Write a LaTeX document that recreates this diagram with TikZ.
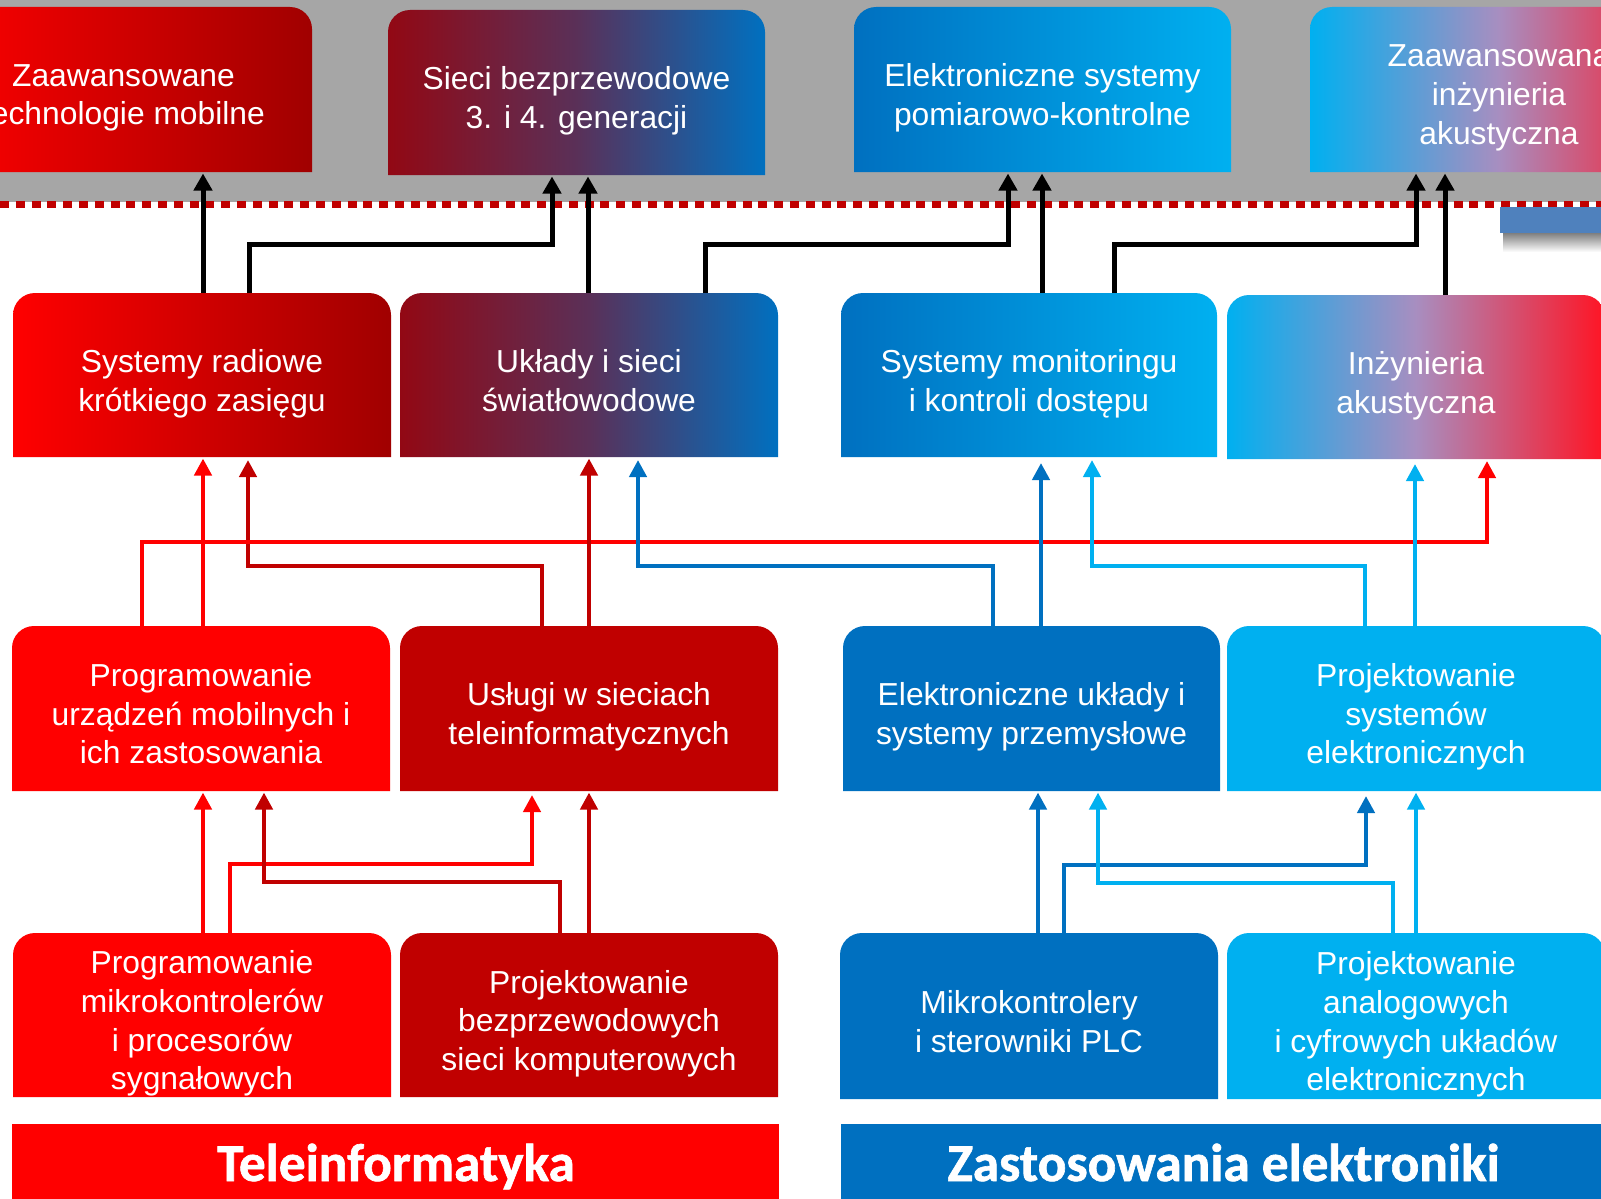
\documentclass[tikz,border=0pt]{standalone}
\usepackage{fontspec}
\setmainfont{Liberation Sans}
\newfontfamily\headfont{Carlito}[BoldFeatures={FakeBold=1.2}]
\usetikzlibrary{arrows.meta,calc}
\pgfdeclarelayer{background}
\pgfsetlayers{background,main}

\definecolor{cRed}{RGB}{255,0,0}
\definecolor{cDark}{RGB}{192,0,0}
\definecolor{cBlue}{RGB}{0,112,192}
\definecolor{cCyan}{RGB}{0,176,240}
\definecolor{cDeep}{RGB}{160,0,0}
\definecolor{cWine}{RGB}{146,8,20}
\definecolor{cPlum}{RGB}{90,48,88}
\definecolor{cLav}{RGB}{168,142,192}
\definecolor{cPink}{RGB}{255,20,36}
\definecolor{cGray}{RGB}{166,166,166}
\definecolor{cSteel}{RGB}{79,129,189}

\tikzset{
  boxnode/.style={rectangle, inner sep=0pt, outer sep=0pt},
  lbl/.style={text=white, align=center, inner sep=0pt,
    font=\fontsize{31.8}{38.7}\selectfont,
    execute at end node={\vphantom{y}}},
  headlbl/.style={text=white, inner sep=0pt,
    font=\headfont\bfseries\fontsize{53.3}{60}\selectfont},
  blk/.style={draw=black, line width=5pt,
    -{Triangle[width=18pt,length=17pt]}, shorten >=1.5pt},
  clr/.style={line width=4.5pt,
    -{Triangle[width=17pt,length=17pt]}, shorten >=1.5pt},
}

\newcommand\mkbox[5]{%
  \node[boxnode, minimum width={(#4)-(#2)}, minimum height={(#5)-(#3)}]
    (#1) at ({((#2)+(#4))/2},{((#3)+(#5))/2}) {};}
\newcommand\rtshape[2]{%
  \begin{pgfonlayer}{background}
  \path[#2] (#1.south west) [rounded corners=22pt] -- (#1.north west)
     -- (#1.north east) [sharp corners] -- (#1.south east) -- cycle;
  \end{pgfonlayer}}

\begin{document}
\begin{tikzpicture}[x=1pt,y=-1pt]
\useasboundingbox (0,0) rectangle (1601,1199);

% top band
\begin{pgfonlayer}{background}
\fill[cGray] (0,0) rectangle (1601,202);
\draw[cDark, line width=7pt, dash pattern=on 9pt off 6.8pt] (0,204) -- (1601,204);
\shade[top color=black!50, bottom color=white] (1503,233) rectangle (1601,252);
\fill[cSteel] (1500,207) rectangle (1601,233);
\end{pgfonlayer}

% boxes
\mkbox{T1}{-65}{7}{312}{172}
\mkbox{T2}{388}{10}{765}{175}
\mkbox{T3}{854}{7}{1231}{172}
\mkbox{T4}{1310}{7}{1688}{172}
\mkbox{M1}{13}{293}{391}{457}
\mkbox{M2}{400}{293}{778}{457}
\mkbox{M3}{841}{293}{1217}{457}
\mkbox{M4}{1227}{295}{1605}{459}
\mkbox{R1}{12}{626}{390}{791}
\mkbox{R2}{400}{626}{778}{791}
\mkbox{R3}{843}{626}{1220}{791}
\mkbox{R4}{1227}{626}{1605}{791}
\mkbox{B1}{13}{933}{391}{1097}
\mkbox{B2}{400}{933}{778}{1097}
\mkbox{B3}{840}{933}{1218}{1099}
\mkbox{B4}{1227}{933}{1605}{1099}

\rtshape{T1}{shade, left color=cRed, right color=cDeep}
\rtshape{T2}{shade, left color=cWine, right color=cBlue, middle color=cPlum}
\rtshape{T3}{shade, left color=cBlue, right color=cCyan}
\rtshape{T4}{shade, left color=cCyan, right color=cPink, middle color=cLav}
\rtshape{M1}{shade, left color=cRed, right color=cDeep}
\rtshape{M2}{shade, left color=cWine, right color=cBlue, middle color=cPlum}
\rtshape{M3}{shade, left color=cBlue, right color=cCyan}
\rtshape{M4}{shade, left color=cCyan, right color=cPink, middle color=cLav}
\rtshape{R1}{fill=cRed}
\rtshape{R2}{fill=cDark}
\rtshape{R3}{fill=cBlue}
\rtshape{R4}{fill=cCyan}
\rtshape{B1}{fill=cRed}
\rtshape{B2}{fill=cDark}
\rtshape{B3}{fill=cBlue}
\rtshape{B4}{fill=cCyan}

% labels
\node[lbl] (T1t) at ([yshift=-8.5pt]T1.center) {Zaawansowane\\technologie mobilne};
\node[lbl] (T2t) at ([yshift=-8.5pt]T2.center) {Sieci bezprzewodowe\\3. i 4. generacji};
\node[lbl] (T3t) at ([yshift=-8.5pt]T3.center) {Elektroniczne systemy\\pomiarowo-kontrolne};
\node[lbl] (T4t) at ([yshift=-8.5pt]T4.center) {Zaawansowana\\inżynieria\\akustyczna};
\node[lbl] (M1t) at ([yshift=-8.5pt]M1.center) {Systemy radiowe\\krótkiego zasięgu};
\node[lbl] (M2t) at ([yshift=-8.5pt]M2.center) {Układy i sieci\\światłowodowe};
\node[lbl] (M3t) at ([yshift=-8.5pt]M3.center) {Systemy monitoringu\\i kontroli dostępu};
\node[lbl] (M4t) at ([yshift=-8.5pt]M4.center) {Inżynieria\\akustyczna};
\node[lbl] (R1t) at ([yshift=-8.5pt]R1.center) {Programowanie\\urządzeń mobilnych i\\ich zastosowania};
\node[lbl] (R2t) at ([yshift=-8.5pt]R2.center) {Usługi w sieciach\\teleinformatycznych};
\node[lbl] (R3t) at ([yshift=-8.5pt]R3.center) {Elektroniczne układy i\\systemy przemysłowe};
\node[lbl] (R4t) at ([yshift=-8.5pt]R4.center) {Projektowanie\\systemów\\elektronicznych};
\node[lbl] (B1t) at ([yshift=-8.5pt]B1.center) {Programowanie\\mikrokontrolerów\\i procesorów\\sygnałowych};
\node[lbl] (B2t) at ([yshift=-8.5pt]B2.center) {Projektowanie\\bezprzewodowych\\sieci komputerowych};
\node[lbl] (B3t) at ([yshift=-8.5pt]B3.center) {Mikrokontrolery\\i sterowniki PLC};
\node[lbl] (B4t) at ([yshift=-8.5pt]B4.center) {Projektowanie\\analogowych\\i cyfrowych układów\\elektronicznych};

% bottom bars
\node[boxnode, fill=cRed, minimum width=767, minimum height=75] (TL) at (395.5,1161.5) {};
\node[boxnode, fill=cBlue, minimum width=764, minimum height=75] (ZE) at (1223,1161.5) {};
\node[headlbl, anchor=base] (TLt) at (396,1181) {Teleinformatyka};
\node[headlbl, anchor=base] (ZEt) at (1223.5,1181) {Zastosowania elektroniki};

% black connectors (middle row -> top row)
\draw[blk] (203,0 |- M1.north) -- (203,0 |- T1.south);
\draw[blk] (249,0 |- M1.north) -- (249,244) -| (552,0 |- T2.south);
\draw[blk] (588,0 |- M2.north) -- (588,0 |- T2.south);
\draw[blk] (705,0 |- M2.north) -- (705,244) -| (1008,0 |- T3.south);
\draw[blk] (1042,0 |- M3.north) -- (1042,0 |- T3.south);
\draw[blk] (1114,0 |- M3.north) -- (1114,244) -| (1416,0 |- T4.south);
\draw[blk] (1445,0 |- M4.north) -- (1445,0 |- T4.south);

% third row -> middle row
\draw[clr, draw=cRed] (203,0 |- R1.north) -- (203,0 |- M1.south);
\draw[clr, draw=cDark, shorten >=3pt] (542,0 |- R2.north) -- (542,566) -| (248,0 |- M1.south);
\draw[clr, draw=cRed, shorten >=2pt] (142,0 |- R1.north) -- (142,542) -| (1487,0 |- M4.south);
\draw[clr, draw=cDark] (589,0 |- R2.north) -- (589,0 |- M2.south);
\draw[clr, draw=cBlue, shorten >=3pt] (993,0 |- R3.north) -- (993,566) -| (638,0 |- M2.south);
\draw[clr, draw=cBlue, shorten >=6pt] (1041,0 |- R3.north) -- (1041,0 |- M3.south);
\draw[clr, draw=cCyan, shorten >=3pt] (1365,0 |- R4.north) -- (1365,566) -| (1092,0 |- M3.south);
\draw[clr, draw=cCyan, shorten >=5pt] (1415,0 |- R4.north) -- (1415,0 |- M4.south);

% bottom row -> third row
\draw[clr, draw=cRed] (203,0 |- B1.north) -- (203,0 |- R1.south);
\draw[clr, draw=cRed, shorten >=4pt] (230,0 |- B1.north) -- (230,864) -| (532,0 |- R2.south);
\draw[clr, draw=cDark] (560,0 |- B2.north) -- (560,882) -| (264,0 |- R1.south);
\draw[clr, draw=cDark] (589,0 |- B2.north) -- (589,0 |- R2.south);
\draw[clr, draw=cBlue] (1038,0 |- B3.north) -- (1038,0 |- R3.south);
\draw[clr, draw=cBlue, shorten >=5pt] (1064,0 |- B3.north) -- (1064,865) -| (1366,0 |- R4.south);
\draw[clr, draw=cCyan] (1393,0 |- B4.north) -- (1393,883) -| (1098,0 |- R3.south);
\draw[clr, draw=cCyan] (1416,0 |- B4.north) -- (1416,0 |- R4.south);
\end{tikzpicture}
\end{document}
